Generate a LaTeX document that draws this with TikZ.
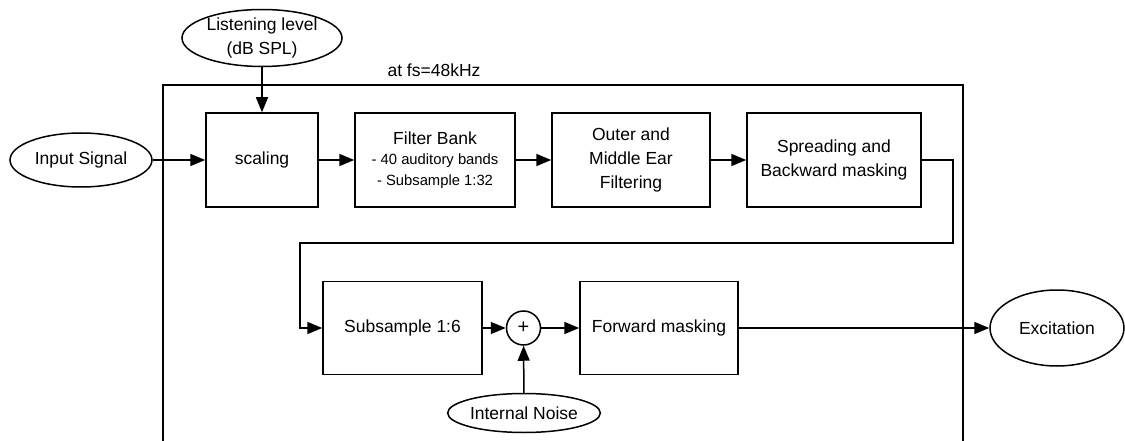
\documentclass[tikz,border=0pt]{standalone}
\usepackage{fontspec}
\setmainfont{Liberation Sans}
\usetikzlibrary{shapes.geometric,arrows.meta}
\tikzset{
  blk/.style={draw, line width=1.5pt, rectangle, align=center, inner sep=0pt},
  oval/.style={draw, line width=1.5pt, ellipse, align=center, inner sep=0pt},
  conn/.style={line width=1.5pt, -{Triangle[length=15pt,width=12pt]}},
  wire/.style={line width=1.5pt},
  big/.style={font=\fontsize{17.5}{24}\selectfont},
  small/.style={font=\fontsize{14.8}{20.5}\selectfont}
}
\begin{document}
\begin{tikzpicture}[x=1pt,y=-1pt]
\useasboundingbox (0,0) rectangle (1125,441);
% frame
\draw[wire] (163,445) -- (163,85) -- (963,85) -- (963,445);
\node[big, anchor=west] (fs) at (384,70) {at fs=48kHz};

\node[oval, big, minimum width=160pt, minimum height=57pt] (listen) at (262,38) {Listening level\\(dB SPL)};
\node[oval, big, minimum width=142pt, minimum height=54pt] (input) at (81,160) {Input Signal};
\node[blk, big, minimum width=112pt, minimum height=94pt] (scaling) at (262,160) {scaling};
\node[blk, small, minimum width=160pt, minimum height=94pt] (filter) at (435,160)
  {{\fontsize{17.5}{21}\selectfont Filter Bank}\\- 40 auditory bands\\- Subsample 1:32};
\node[blk, big, minimum width=158pt, minimum height=94pt] (outer) at (631,160) {Outer and\\Middle Ear\\Filtering};
\node[blk, big, minimum width=174pt, minimum height=94pt] (spread) at (834,160) {Spreading and\\Backward masking};
\node[blk, big, minimum width=159pt, minimum height=93pt] (sub6) at (402.5,328) {Subsample 1:6};
\node[draw, line width=1.5pt, circle, minimum size=34pt, inner sep=0pt, font=\fontsize{20}{20}\selectfont] (plus) at (523.5,328) {+};
\node[blk, big, minimum width=158pt, minimum height=93pt] (fwd) at (659,328) {Forward masking};
\node[oval, big, minimum width=134pt, minimum height=76pt] (exc) at (1057,328) {Excitation};
\node[oval, big, minimum width=142pt, minimum height=39pt] (noise) at (524,413) {Internal Noise};

\coordinate (c1) at (953,243);
\coordinate (c2) at (300,243);

\draw[conn] (input) -- (scaling);
\draw[conn] (listen) -- (scaling);
\draw[conn] (scaling) -- (filter);
\draw[conn] (filter) -- (outer);
\draw[conn] (outer) -- (spread);
\draw[conn] (spread.east) -| (c1) -- (c2) |- (sub6.west);
\draw[conn] (sub6) -- (plus);
\draw[conn] (plus) -- (fwd);
\draw[conn] (fwd) -- (exc);
\draw[conn] (noise) -- (plus);
\end{tikzpicture}
\end{document}
